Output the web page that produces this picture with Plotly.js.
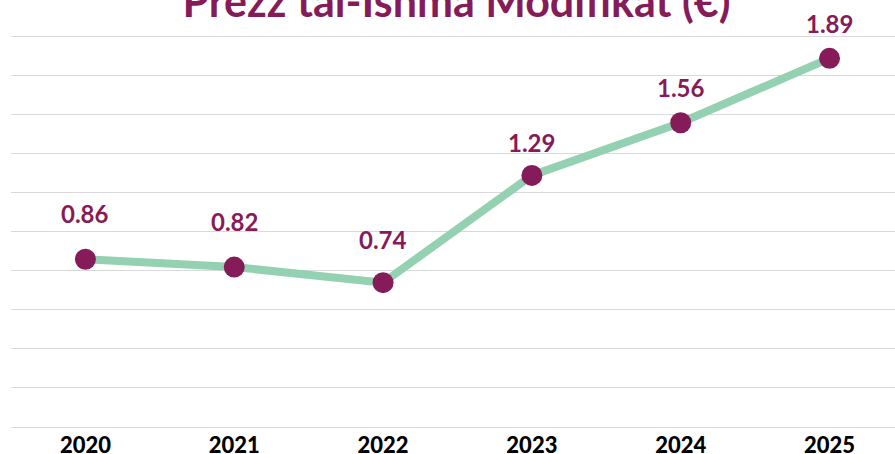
<!DOCTYPE html>
<html>
<head>
<meta charset="utf-8">
<script src="https://cdn.plot.ly/plotly-3.0.1.min.js"></script>
<style>html,body{margin:0;padding:0;background:#fff;}#chart{width:895px;height:454px;}</style>
</head>
<body>
<div id="chart"></div>
<script>
const years = ['2020', '2021', '2022', '2023', '2024', '2025'];
const prices = [0.86, 0.82, 0.74, 1.29, 1.56, 1.89];
const labels = ['0.86', '0.82', '0.74', '1.29', '1.56', '1.89'];
const titleText = 'Prezz tal-Ishma Modifikat (€)';

const purple = '#851b58';
const green = '#94d1b2';
const labelLift = [46, 46, 43, 33, 35, 35];

const trace = {
  x: years,
  y: prices,
  type: 'scatter',
  mode: 'lines+markers',
  line: {color: green, width: 8},
  marker: {color: purple, size: 21},
  hoverinfo: 'skip'
};

const annotations = years.map((yr, i) => ({
  x: i, y: prices[i], xref: 'x', yref: 'y',
  text: labels[i], showarrow: false,
  yshift: labelLift[i],
  font: {family: 'Lato, sans-serif', size: 24, color: purple, weight: 'bold'}
}));

const layout = {
  width: 895, height: 454,
  margin: {l: 11, r: 0, t: 33, b: 27},
  paper_bgcolor: '#fff', plot_bgcolor: '#fff',
  showlegend: false,
  title: {
    text: titleText,
    font: {family: 'Lato, sans-serif', size: 43, color: purple, weight: 'bold'},
    x: 0.51, xanchor: 'center',
    y: 1 - 17 / 454, yref: 'container', yanchor: 'bottom'
  },
  xaxis: {
    type: 'category',
    range: [-0.5, 5.44],
    showgrid: false, zeroline: false, showline: false, ticks: '',
    ticklabelstandoff: 3,
    tickfont: {family: 'Lato, sans-serif', size: 22, color: '#000', weight: 900},
    fixedrange: true
  },
  yaxis: {
    range: [0, 2.02],
    dtick: 0.2,
    showgrid: true, gridcolor: '#d9d9d9', gridwidth: 1,
    zeroline: true, zerolinecolor: '#d9d9d9', zerolinewidth: 1,
    showline: false, showticklabels: false, ticks: '',
    fixedrange: true
  },
  annotations: annotations
};

Plotly.newPlot('chart', [trace], layout, {displayModeBar: false, staticPlot: true});
</script>
</body>
</html>
